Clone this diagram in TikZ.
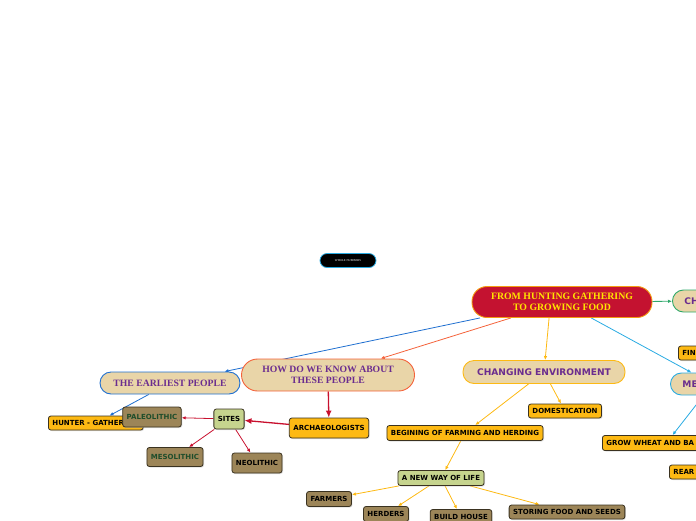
\documentclass[tikz,border=0pt]{standalone}
\usepackage{fontspec}
\setmainfont{Liberation Serif}
\newfontfamily\mapsans{DejaVu Sans}
\usetikzlibrary{arrows.meta,backgrounds,shadows}

\definecolor{rootred}{HTML}{C41230}
\definecolor{rootrim}{HTML}{F39C12}
\definecolor{rootink}{HTML}{FFE500}
\definecolor{tan}{HTML}{E9D5A8}
\definecolor{grape}{HTML}{6B2D8F}
\definecolor{amber}{HTML}{FDB913}
\definecolor{mud}{HTML}{9C8558}
\definecolor{sage}{HTML}{C6D48E}
\definecolor{pine}{HTML}{1E4D2B}
\definecolor{crimson}{HTML}{C8102E}
\definecolor{skyline}{HTML}{29ABE2}
\definecolor{royal}{HTML}{1F6FD0}
\definecolor{coral}{HTML}{F4623A}
\definecolor{leaf}{HTML}{2EA86A}
\definecolor{rim}{HTML}{3A3220}

\begin{document}
\begin{tikzpicture}[x=1pt,y=-1pt,line cap=round,line join=round,
  topic/.style={draw, line width=0.9pt, fill=tan, text=grape, align=center,
    font=\bfseries\fontsize{9.7}{11}\selectfont, inner xsep=0pt, inner ysep=2pt,
    rounded corners=11pt, minimum height=22pt},
  sanstopic/.style={topic, font=\mapsans\bfseries\fontsize{9.1}{11}\selectfont},
  leafbox/.style={draw=rim, line width=0.8pt, fill=amber, rounded corners=2.5pt,
    font=\mapsans\bfseries\fontsize{7}{8}\selectfont, inner xsep=4pt, inner ysep=0pt,
    minimum height=14pt, drop shadow={shadow xshift=1pt,shadow yshift=-1pt,fill=black!25}},
  link/.style={-{Latex[length=4pt,width=3.5pt]}, line width=0.8pt},
  redlink/.style={-{Latex[length=7pt,width=6pt]}, line width=1.3pt, crimson}]

  % Page frame
  \useasboundingbox (0,0) rectangle (696,520);
  \clip (0,0) rectangle (696,520);

  % Loose node
  \node[draw=skyline, fill=black, text=white, line width=0.8pt, rounded corners=7pt,
    minimum width=56pt, minimum height=14pt, inner sep=0pt,
    font=\fontsize{3}{3}\selectfont] (whole) at (348,260.5) {WHOLE NUMBERS};

  % Central topic
  \node[draw=rootrim, fill=rootred, text=rootink, line width=0.9pt, rounded corners=15pt,
    minimum width=180pt, minimum height=31pt, inner sep=0pt, align=center,
    font=\bfseries\fontsize{9.8}{10.5}\selectfont] (root) at (562,302)
    {FROM HUNTING GATHERING\\TO GROWING FOOD};

  % Main topics
  \node[topic, draw=royal, minimum width=140pt] (earliest) at (170,383) {THE EARLIEST PEOPLE};
  \node[topic, draw=coral, rounded corners=16pt, minimum width=173pt, minimum height=32pt]
    (know) at (328,375) {HOW DO WE KNOW ABOUT\\THESE PEOPLE};
  \node[sanstopic, draw=amber, minimum width=162pt, minimum height=23pt] (env) at (544,372)
    {CHANGING ENVIRONMENT};
  \node[sanstopic, draw=leaf, anchor=west, text width=60pt, align=left, inner xsep=12pt]
    (ch) at (672,301) {CH};
  \node[sanstopic, draw=skyline, anchor=west, text width=60pt, align=left, inner xsep=12pt]
    (me) at (670,384) {ME};

  % Earliest people and sources
  \node[leafbox, anchor=west] (hunter) at (48,423) {HUNTER - GATHERERS};
  \node[leafbox, minimum height=20pt] (arch) at (329,428) {ARCHAEOLOGISTS};
  \node[leafbox, fill=sage, minimum height=20pt] (sites) at (229,419) {SITES};
  \node[leafbox, fill=mud, text=pine, minimum height=20pt] (paleo) at (152,417) {PALEOLITHIC};
  \node[leafbox, fill=mud, text=pine, minimum height=19pt] (meso) at (175,457) {MESOLITHIC};
  \node[leafbox, fill=mud, minimum height=20pt] (neo) at (257,463) {NEOLITHIC};

  % Farming branch
  \node[leafbox] (dom) at (565,411) {DOMESTICATION};
  \node[leafbox, minimum height=15pt] (begin) at (465,433) {BEGINING OF FARMING AND HERDING};
  \node[leafbox, fill=sage, minimum height=15pt] (life) at (441,478) {A NEW WAY OF LIFE};
  \node[leafbox, fill=mud, minimum height=15pt] (farmers) at (329,499) {FARMERS};
  \node[leafbox, fill=mud, minimum height=15pt] (herders) at (386,514) {HERDERS};
  \node[leafbox, fill=mud, minimum height=15pt] (build) at (461,517) {BUILD HOUSE};
  \node[leafbox, fill=mud] (storing) at (567,512) {STORING FOOD AND SEEDS};

  % Cut off at the right edge
  \node[leafbox, anchor=west, text width=50pt, align=left] (fin) at (678,353) {FIN};
  \node[leafbox, anchor=west, text width=120pt, align=left, minimum height=15pt]
    (grow) at (602,443) {GROW WHEAT AND BA};
  \node[leafbox, anchor=west, text width=40pt, align=left] (rear) at (669,472) {REAR};

  % Connectors behind the boxes
  \begin{scope}[on background layer]
    \draw[link, royal] (root.-169) -- (earliest);
    \draw[link, coral] (root) -- (know);
    \draw[link, amber] (root.-129) -- (env);
    \draw[link, skyline] (root) -- (me);
    \draw[link, leaf] (root) -- (ch);
    \draw[link, royal] (earliest) -- (hunter);
    \draw[redlink] (know) -- (arch);
    \draw[redlink] (arch) -- (sites);
    \foreach \t in {paleo,meso,neo}
      \draw[link, crimson] (sites) -- (\t);
    \draw[link, amber] (env) -- (dom);
    \draw[link, amber] (env) -- (begin);
    \draw[link, amber] (begin) -- (life);
    \foreach \t in {farmers,herders,build,storing}
      \draw[link, amber] (life) -- (\t);
    \draw[link, skyline] (me) -- (grow);
  \end{scope}
\end{tikzpicture}
\end{document}
